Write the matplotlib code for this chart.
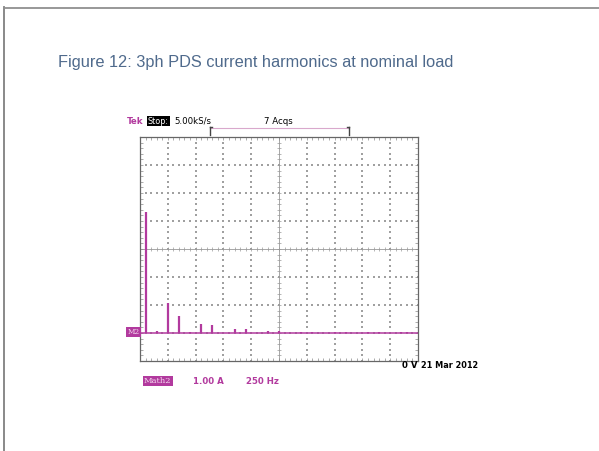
import matplotlib
matplotlib.use("Agg")
import matplotlib.pyplot as plt
import numpy as np

# ---- data (harmonic spectrum, A per harmonic) ----
freqs_hz = [50, 150, 250, 350, 450, 550, 650, 850, 950, 1150, 1250,
            1450, 1550, 1750, 1850, 2050, 2150, 2350, 2400]
amps_a = [4.33, 0.08, 1.06, 0.62, 0.05, 0.32, 0.27, 0.14, 0.13, 0.08, 0.08,
          0.05, 0.05, 0.04, 0.04, 0.03, 0.03, 0.03, 0.04]
title = "Figure 12: 3ph PDS current harmonics at nominal load"
x_div = 250.0   # Hz/div
y_div = 1.0     # A/div

W, H = 599, 451
fig = plt.figure(figsize=(W / 100, H / 100), dpi=100)
fig.patch.set_facecolor("white")

def fx(x):
    return x / W

def fy(y):
    return 1 - y / H

MAG = "#b23a9e"
GRID = "#a0a0a0"

# page border (left and top)
deco = fig.add_axes([0, 0, 1, 1])
deco.set_xlim(0, W)
deco.set_ylim(H, 0)
deco.axis("off")
deco.plot([4, 4], [7, H], color="#808080", lw=1.3)
deco.plot([4, W], [7.5, 7.5], color="#909090", lw=1.3)

# title
fig.text(fx(58), fy(63), title, fontsize=11.8, family="Liberation Sans",
         color="#4f6a8c", va="center", ha="left")

# scope axes
L, R, T, B = 140, 418, 137, 361
ax = fig.add_axes([fx(L), fy(B), (R - L) / W, (B - T) / H])
ax.set_xlim(0, 10 * x_div)
ax.set_ylim(-1 * y_div, 7 * y_div)
ax.set_facecolor("white")
for s in ax.spines.values():
    s.set_color("#666666")
    s.set_linewidth(0.9)
ax.set_xticks(np.arange(0, 10 * x_div + 1, x_div / 5), minor=True)
ax.set_yticks(np.arange(-1, 7.01, 0.2), minor=True)
ax.set_xticks([])
ax.set_yticks([])
ax.tick_params(which="minor", direction="in", length=2.5, width=0.5, color="#8a8a8a",
               top=True, right=True, labelbottom=False, labelleft=False)

# dotted graticule
xs_lines = np.arange(1, 10) * x_div
ys_lines = np.arange(0, 7) * y_div
for xv in xs_lines:
    if xv == 5 * x_div:
        continue
    yy = np.arange(-1, 7.001, 0.2)
    ax.scatter(np.full_like(yy, xv), yy, s=0.9, marker="s", color=GRID, lw=0, zorder=1)
for yv in ys_lines:
    if yv == 3 * y_div:
        continue
    xx = np.arange(0, 10 * x_div + 1, x_div / 5)
    ax.scatter(xx, np.full_like(xx, yv), s=0.9, marker="s", color=GRID, lw=0, zorder=1)

# center cross with ticks
ax.axvline(5 * x_div, color="#999999", lw=0.6, zorder=1)
ax.axhline(3 * y_div, color="#999999", lw=0.6, zorder=1)
yy = np.arange(-1, 7.001, 0.2)
ax.scatter(np.full_like(yy, 5 * x_div), yy, s=7, marker="_", color="#999999", lw=0.5, zorder=1)
xx = np.arange(0, 10 * x_div + 1, x_div / 5)
ax.scatter(xx, np.full_like(xx, 3 * y_div), s=7, marker="|", color="#999999", lw=0.5, zorder=1)

# trace
ax.axhline(0, color=MAG, lw=1.1, zorder=3)
ax.vlines(freqs_hz, 0, amps_a, color=MAG, lw=1.6, zorder=3)

# header texts
fnt = dict(family="DejaVu Sans", fontsize=6.2, va="center")
fig.text(fx(127), fy(121), "Tek", color=MAG, fontweight="bold", **fnt)
fig.text(fx(148), fy(121), "Stop:", color="white", family="DejaVu Sans", fontsize=5.8,
         va="center", bbox=dict(boxstyle="square,pad=0.12", fc="black", ec="none"))
fig.text(fx(174), fy(121), "5.00kS/s", color="black", **fnt)
fig.text(fx(264), fy(121), "7 Acqs", color="black", **fnt)
deco.plot([211, 349], [128, 128], color="#d9a8cc", lw=0.8)
deco.plot([210, 210], [127, 135], color="#444444", lw=1.0)
deco.plot([210, 212], [127, 127], color="#444444", lw=1.0)
deco.plot([349, 349], [127, 135], color="#444444", lw=1.0)
deco.plot([347, 349], [127, 127], color="#444444", lw=1.0)

# M2 marker
fig.text(fx(127.5), fy(332), "M2", color="#f3d9ee", fontsize=5.2, family="DejaVu Serif",
         va="center", ha="left",
         bbox=dict(boxstyle="square,pad=0.15", fc=MAG, ec="none"))

# bottom texts
fig.text(fx(402), fy(365), "0 V", color="black", fontweight="bold", **fnt)
fig.text(fx(421), fy(366), "21 Mar 2012", color="black", fontweight="bold",
         family="DejaVu Sans", fontsize=5.9, va="center")
fig.text(fx(144), fy(381), "Math2", color="#f3d9ee", fontsize=6, family="DejaVu Serif",
         va="center", bbox=dict(boxstyle="square,pad=0.12", fc=MAG, ec="none"))
fig.text(fx(193), fy(381), "1.00 A", color=MAG, fontweight="bold", **fnt)
fig.text(fx(246), fy(381), "250 Hz", color=MAG, fontweight="bold", **fnt)

fig.savefig("out.png", dpi=100)
